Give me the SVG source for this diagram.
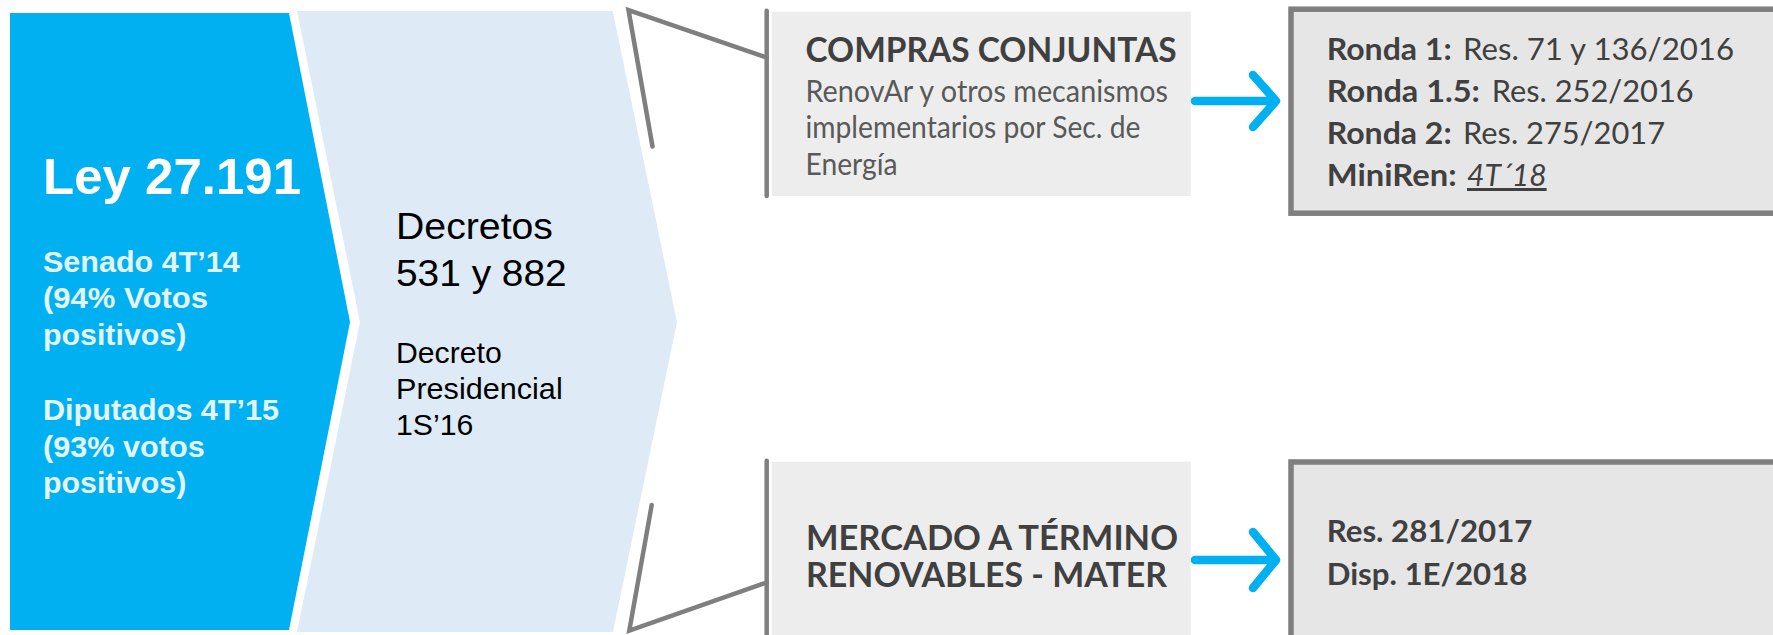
<svg xmlns="http://www.w3.org/2000/svg" width="1773" height="635" viewBox="0 0 1773 635">
<style>
.ar{font-family:"Liberation Sans",Arial,sans-serif}
.os{font-family:Lato,"Open Sans","Noto Sans",sans-serif}
.wb{font-weight:bold;fill:#FFFFFF}
.lb{font-weight:bold;fill:#E3F4FB;font-size:29.5px}
.dk{fill:#000000}
.ttl{font-weight:bold;fill:#404040;font-size:34px}
.sub{fill:#595959;font-size:30px}
.rb{font-weight:bold;fill:#404040;font-size:30px}
.rr{fill:#404040;font-size:30px}
.box{fill:#EDEDED}
.dbox{fill:#E6E6E6;stroke:#7F7F7F;stroke-width:5.5}
.br{fill:none;stroke:#7F7F7F;stroke-width:4.5;stroke-linecap:round;stroke-linejoin:miter}
.ar2{fill:none;stroke:#00B0F0;stroke-width:8.5;stroke-linecap:round;stroke-linejoin:round}
</style>
<rect width="1773" height="635" fill="#FFFFFF"/>
<g id="node-ley">
<polygon points="10,13 289,13 350,322 289,630 10,630" fill="#00B0F0"/>
<text class="ar wb" x="43" y="193.5" font-size="50" textLength="258" lengthAdjust="spacingAndGlyphs">Ley 27.191</text>
<text class="ar lb" x="43" y="271.7" textLength="196.7" lengthAdjust="spacingAndGlyphs">Senado 4T’14</text>
<text class="ar lb" x="43" y="308.3" textLength="165" lengthAdjust="spacingAndGlyphs">(94% Votos</text>
<text class="ar lb" x="43" y="344.5" textLength="143.3" lengthAdjust="spacingAndGlyphs">positivos)</text>
<text class="ar lb" x="43" y="420" textLength="236" lengthAdjust="spacingAndGlyphs">Diputados 4T’15</text>
<text class="ar lb" x="43" y="456.7" textLength="161.7" lengthAdjust="spacingAndGlyphs">(93% votos</text>
<text class="ar lb" x="43" y="492.5" textLength="143.3" lengthAdjust="spacingAndGlyphs">positivos)</text>
</g>
<g id="node-decretos">
<polygon points="297,11 612.7,11 677,322 613,632 297,632 360,322" fill="#DEEAF6"/>
<text class="ar dk" x="396" y="239.3" font-size="37" textLength="157" lengthAdjust="spacingAndGlyphs">Decretos</text>
<text class="ar dk" x="396" y="286" font-size="37" textLength="170.7" lengthAdjust="spacingAndGlyphs">531 y 882</text>
<text class="ar dk" x="396" y="362.7" font-size="29" textLength="105.7" lengthAdjust="spacingAndGlyphs">Decreto</text>
<text class="ar dk" x="396" y="399.3" font-size="29" textLength="166.7" lengthAdjust="spacingAndGlyphs">Presidencial</text>
<text class="ar dk" x="396" y="435" font-size="29" textLength="77.3" lengthAdjust="spacingAndGlyphs">1S’16</text>
</g>
<g id="node-compras">
<rect class="box" x="771.7" y="11.7" width="419" height="184.3"/>
<text class="os ttl" x="805.5" y="62" textLength="371" lengthAdjust="spacingAndGlyphs">COMPRAS CONJUNTAS</text>
<text class="os sub" x="805.5" y="101.5" textLength="362.5" lengthAdjust="spacingAndGlyphs">RenovAr y otros mecanismos</text>
<text class="os sub" x="805.5" y="138" textLength="335" lengthAdjust="spacingAndGlyphs">implementarios por Sec. de</text>
<text class="os sub" x="805.5" y="174.5" textLength="92" lengthAdjust="spacingAndGlyphs">Energía</text>
</g>
<g id="node-compras-detail">
<rect class="dbox" x="1291" y="9.2" width="500" height="204"/>
<text class="os rb" x="1326.7" y="60" textLength="125" lengthAdjust="spacingAndGlyphs">Ronda 1:</text>
<text class="os rr" x="1463" y="60" textLength="271" lengthAdjust="spacingAndGlyphs">Res. 71 y 136/2016</text>
<text class="os rb" x="1326.7" y="101.7" textLength="153.3" lengthAdjust="spacingAndGlyphs">Ronda 1.5:</text>
<text class="os rr" x="1491.7" y="101.7" textLength="202" lengthAdjust="spacingAndGlyphs">Res. 252/2016</text>
<text class="os rb" x="1326.7" y="144" textLength="125" lengthAdjust="spacingAndGlyphs">Ronda 2:</text>
<text class="os rr" x="1463" y="144" textLength="202" lengthAdjust="spacingAndGlyphs">Res. 275/2017</text>
<text class="os rb" x="1326.7" y="186" textLength="130" lengthAdjust="spacingAndGlyphs">MiniRen:</text>
<text class="os rr" x="1467" y="186" font-style="italic" text-decoration="underline">4T´18</text>
</g>
<g id="node-mater">
<rect class="box" x="771.7" y="461.7" width="419" height="180"/>
<text class="os ttl" x="806" y="550" textLength="372" lengthAdjust="spacingAndGlyphs">MERCADO A TÉRMINO</text>
<text class="os ttl" x="806" y="587.3" textLength="361" lengthAdjust="spacingAndGlyphs">RENOVABLES - MATER</text>
</g>
<g id="node-mater-detail">
<rect class="dbox" x="1291" y="462" width="500" height="200"/>
<text class="os rb" x="1326.7" y="541.7" textLength="205.7" lengthAdjust="spacingAndGlyphs">Res. 281/2017</text>
<text class="os rb" x="1326.7" y="585" textLength="200.7" lengthAdjust="spacingAndGlyphs">Disp. 1E/2018</text>
</g>
<g id="connectors">
<polyline class="br" points="652.5,146.5 628.5,10 766.7,57.5"/>
<line class="br" x1="766.7" y1="10.7" x2="766.7" y2="196"/>
<polyline class="br" points="651.7,505 629.3,630.5 766.7,582.5"/>
<line class="br" x1="766.7" y1="460.7" x2="766.7" y2="640"/>
<path class="ar2" d="M1195,101 H1276 M1253,75 L1276,101 L1253,127"/>
<path class="ar2" d="M1195,560 H1276 M1253,532 L1276,560 L1253,588"/>
</g>
</svg>
